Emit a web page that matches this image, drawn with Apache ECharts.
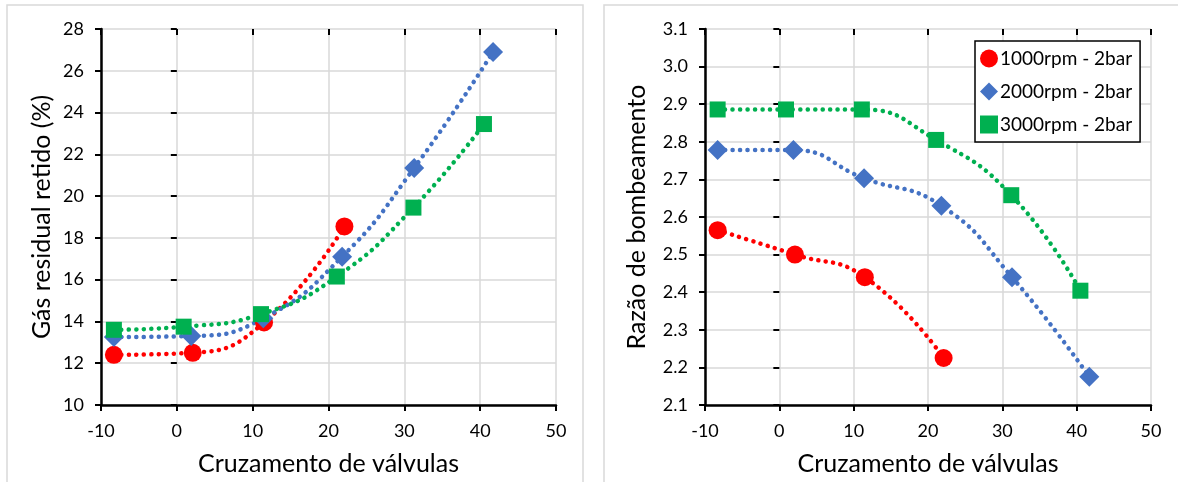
<!DOCTYPE html>
<html>
<head>
<meta charset="utf-8">
<script src="https://cdn.jsdelivr.net/npm/echarts@6/dist/echarts.min.js"></script>
<style>
  html, body { margin: 0; padding: 0; background: #fff; }
  #chart { width: 1178px; height: 482px; }
</style>
</head>
<body>
<div id="chart"></div>
<script>
// Valve overlap (x) for each operating point
const overlap1000 = [-8.3, 2.1, 11.5, 22.1];
const overlap2000 = [-8.3, 1.9, 11.4, 21.8, 31.3, 41.7];
const overlap3000 = [-8.3, 0.9, 11.1, 21.1, 31.2, 40.5];

// Retained residual gas (%)
const residual1000 = [12.4, 12.5, 13.95, 18.55];
const residual2000 = [13.25, 13.3, 14.15, 17.1, 21.35, 26.9];
const residual3000 = [13.6, 13.75, 14.35, 16.15, 19.45, 23.45];

// Pumping ratio
const pumping1000 = [2.565, 2.5, 2.44, 2.225];
const pumping2000 = [2.778, 2.778, 2.703, 2.63, 2.44, 2.175];
const pumping3000 = [2.886, 2.886, 2.886, 2.805, 2.658, 2.404];

const seriesNames = ['1000rpm - 2bar', '2000rpm - 2bar', '3000rpm - 2bar'];
const xTicks = { min: -10, max: 50, interval: 10 };
const leftTicks = { min: 10, max: 28, interval: 2 };
const rightTicks = { min: 2.1, max: 3.1, interval: 0.1 };

const FONT = 'Lato, "Open Sans", sans-serif';
const RED = '#FF0000', BLUE = '#4472C4', GREEN = '#00B050';
const TITLE_SIZE = 25, TICK_SIZE = 18;

const pairs = (xs, ys) => xs.map((x, i) => [x, ys[i]]);

function mainX(gridIndex) {
  return {
    type: 'value', gridIndex, min: xTicks.min, max: xTicks.max, interval: xTicks.interval,
    name: 'Cruzamento de válvulas', nameLocation: 'middle', nameGap: 46,
    nameTextStyle: { fontFamily: FONT, fontSize: TITLE_SIZE, color: '#000' },
    axisLine: { onZero: false, lineStyle: { color: '#000', width: 2.5 } },
    axisTick: { show: true, length: 6, lineStyle: { color: '#000', width: 2 } },
    axisLabel: { fontFamily: FONT, fontSize: TICK_SIZE, color: '#000', margin: 17 },
    splitLine: { show: true, lineStyle: { color: '#d9d9d9', width: 1.5 } }
  };
}
function innerX(gridIndex) {
  return {
    type: 'value', gridIndex, min: xTicks.min, max: xTicks.max, interval: xTicks.interval,
    axisLine: { show: false },
    axisTick: { show: true, inside: true, length: 6, lineStyle: { color: '#000', width: 2 } },
    axisLabel: { show: false }, splitLine: { show: false }
  };
}
function mainY(gridIndex, ticks, name, gap, fmt) {
  return {
    type: 'value', gridIndex, min: ticks.min, max: ticks.max, interval: ticks.interval,
    name, nameLocation: 'middle', nameGap: gap,
    nameTextStyle: { fontFamily: FONT, fontSize: TITLE_SIZE, color: '#000' },
    axisLine: { onZero: false, lineStyle: { color: '#000', width: 2.5 } },
    axisTick: { show: true, length: 6, lineStyle: { color: '#000', width: 2 } },
    axisLabel: { fontFamily: FONT, fontSize: TICK_SIZE, color: '#000', margin: 17, formatter: fmt },
    splitLine: { show: true, lineStyle: { color: '#d9d9d9', width: 1.5 } }
  };
}
function innerY(gridIndex, ticks) {
  return {
    type: 'value', gridIndex, min: ticks.min, max: ticks.max, interval: ticks.interval,
    axisLine: { show: false },
    axisTick: { show: true, inside: true, length: 6, lineStyle: { color: '#000', width: 2 } },
    axisLabel: { show: false }, splitLine: { show: false }
  };
}

// Dotted smooth trend curve through a group of points
function trend(data, color, axisIdx) {
  return {
    type: 'line', data, xAxisIndex: axisIdx, yAxisIndex: axisIdx,
    smooth: 0.5, showSymbol: false, silent: true, z: 2,
    lineStyle: { color, width: 4.5, type: [0.1, 7.4], cap: 'round' }
  };
}
function markers(name, data, color, symbol, size, axisIdx) {
  return {
    type: 'scatter', name, data, xAxisIndex: axisIdx, yAxisIndex: axisIdx,
    symbol, symbolSize: size, z: 5,
    itemStyle: { color, opacity: 1 }
  };
}

const chart = echarts.init(document.getElementById('chart'), null, { renderer: 'canvas' });
chart.setOption({
  backgroundColor: '#fff',
  animation: false,
  graphic: [
    { type: 'rect', shape: { x: 7, y: 5, width: 576, height: 500 }, style: { fill: null, stroke: '#d9d9d9', lineWidth: 1.5 }, z: -10 },
    { type: 'rect', shape: { x: 604, y: 5, width: 600, height: 500 }, style: { fill: null, stroke: '#d9d9d9', lineWidth: 1.5 }, z: -10 }
  ],
  grid: [
    { left: 101, top: 29, width: 455, height: 376 },
    { left: 705, top: 29, width: 446, height: 376 }
  ],
  xAxis: [mainX(0), mainX(1), innerX(0), innerX(1)],
  yAxis: [
    mainY(0, leftTicks, 'Gás residual retido (%)', 47, v => String(v)),
    mainY(1, rightTicks, 'Razão de bombeamento', 56, v => v.toFixed(1)),
    innerY(0, leftTicks),
    innerY(1, rightTicks)
  ],
  legend: {
    left: 975, top: 41, orient: 'vertical',
    backgroundColor: '#fff', borderColor: '#000', borderWidth: 1.5,
    padding: [8, 8, 8, 5], itemGap: 14, itemWidth: 18, itemHeight: 18,
    textStyle: { fontFamily: FONT, fontSize: 19, color: '#000', padding: [0, 0, 0, -3] },
    data: [
      { name: seriesNames[0], icon: 'circle' },
      { name: seriesNames[1], icon: 'diamond' },
      { name: seriesNames[2], icon: 'rect' }
    ]
  },
  series: [
    trend(pairs(overlap1000, residual1000), RED, 0),
    trend(pairs(overlap2000, residual2000), BLUE, 0),
    trend(pairs(overlap3000, residual3000), GREEN, 0),
    markers(seriesNames[0], pairs(overlap1000, residual1000), RED, 'circle', 18, 0),
    markers(seriesNames[1], pairs(overlap2000, residual2000), BLUE, 'diamond', 20, 0),
    markers(seriesNames[2], pairs(overlap3000, residual3000), GREEN, 'rect', 16, 0),

    trend(pairs(overlap1000, pumping1000), RED, 1),
    trend(pairs(overlap2000, pumping2000), BLUE, 1),
    trend(pairs(overlap3000, pumping3000), GREEN, 1),
    markers(seriesNames[0], pairs(overlap1000, pumping1000), RED, 'circle', 18, 1),
    markers(seriesNames[1], pairs(overlap2000, pumping2000), BLUE, 'diamond', 20, 1),
    markers(seriesNames[2], pairs(overlap3000, pumping3000), GREEN, 'rect', 16, 1)
  ]
});
</script>
</body>
</html>
